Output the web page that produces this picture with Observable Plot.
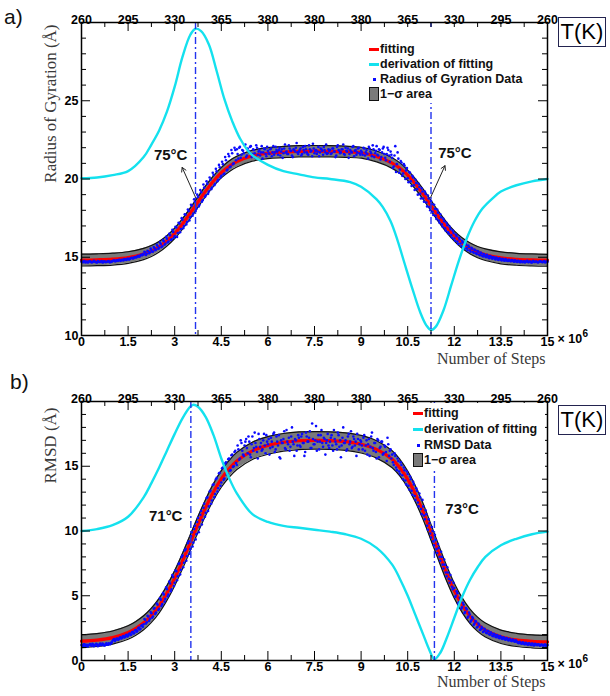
<!DOCTYPE html>
<html><head><meta charset="utf-8">
<script src="https://cdn.jsdelivr.net/npm/d3@7"></script>
<script src="https://cdn.jsdelivr.net/npm/@observablehq/plot@0.6"></script>
<style>
body{margin:0;background:#fff;}
#wrap{position:relative;width:610px;height:696px;overflow:hidden;font-family:"Liberation Sans",Arial,Helvetica,sans-serif;background:#fff;}
#wrap svg{display:block;}
.panel{position:absolute;left:0;}
.tag{position:absolute;font-size:21px;color:#111;line-height:1;}
.tk{position:absolute;left:558px;width:46px;height:28px;border:1.3px solid #23234f;font-size:22px;line-height:28px;text-align:center;color:#000;background:#fff;}
.leg{position:absolute;background:#fff;font-weight:bold;font-size:12.5px;color:#111;}
.row{position:absolute;left:0;height:14px;line-height:14px;white-space:nowrap;}
.mk{position:absolute;left:3px;}
.txt{position:absolute;left:14px;top:0;}
</style></head><body><div id="wrap"></div>
<script>
// ---------- shared axes ----------
const stepTicks = [0,1.5,3,4.5,6,7.5,9,10.5,12,13.5,15];
const stepTickLabels = ["0","1.5","3","4.5","6","7.5","9","10.5","12","13.5","15"];
const stepMinorTicks = [0.75,2.25,3.75,5.25,6.75,8.25,9.75,11.25,12.75,14.25];
const tempLabels = ["260","295","330","365","380","380","380","365","330","295","260"];

// ---------- panel a: radius of gyration ----------
const rgFitSteps = [0,0.5,1,1.5,2,2.25,2.5,2.75,3,3.25,3.5,3.75,4,4.25,4.5,4.75,5,5.5,6,6.5,7,7.5,8,8.5,9,9.5,10,10.25,10.5,10.75,11,11.25,11.5,11.75,12,12.25,12.5,12.75,13,13.5,14,14.5,15];
const rgFit = [14.82,14.84,14.88,14.98,15.21,15.40,15.67,16.05,16.53,17.13,17.81,18.53,19.24,19.87,20.40,20.81,21.11,21.49,21.65,21.72,21.77,21.78,21.77,21.74,21.68,21.44,21.02,20.69,20.24,19.68,19.02,18.30,17.58,16.92,16.36,15.91,15.58,15.33,15.16,14.96,14.87,14.83,14.81];
const rgSigma = [0.38,0.38,0.38,0.37,0.36,0.35,0.34,0.33,0.33,0.33,0.33,0.33,0.33,0.33,0.33,0.34,0.34,0.35,0.35,0.36,0.36,0.36,0.36,0.36,0.35,0.35,0.34,0.34,0.33,0.33,0.33,0.33,0.33,0.33,0.33,0.34,0.35,0.36,0.37,0.38,0.38,0.38,0.38];
const rgDerivSteps = [0,0.5,1,1.5,2,2.25,2.5,2.75,3,3.25,3.5,3.67,3.85,4.1,4.35,4.6,4.85,5.1,5.45,6,6.5,7,7.5,8,8.65,9,9.5,9.7,9.95,10.17,10.4,10.65,10.9,11.1,11.25,11.4,11.65,11.9,12.15,12.4,12.65,12.9,13.25,13.5,14,14.5,15];
const rgDeriv = [20.05,20.1,20.25,20.5,21.4,22.2,23.1,24.3,25.9,27.8,29.2,29.6,29.45,28.6,26.9,25.1,23.7,22.6,21.6,20.9,20.5,20.3,20.1,20.0,19.8,19.5,18.7,18.2,17.3,16.1,14.6,13.0,11.5,10.65,10.35,10.55,11.6,13.2,14.8,16.2,17.3,18.1,18.8,19.2,19.6,19.85,20.0];
// data sampled every 0.05 x10^6 steps (two interleaved sets)
const rgData = [
14.72,14.68,14.75,14.70,14.66,14.74,14.71,14.69,14.77,14.70,14.67,14.73,14.70,14.76,14.68,14.72,14.70,14.74,14.69,14.73,
14.76,14.80,14.74,14.79,14.82,14.77,14.84,14.80,14.86,14.83,14.90,14.87,14.95,14.92,15.00,14.98,15.06,15.04,15.14,15.12,
15.18,15.30,15.22,15.38,15.31,15.47,15.36,15.58,15.49,15.72,15.60,15.85,15.70,16.02,15.86,16.18,16.00,16.40,16.15,16.62,
16.35,16.90,16.55,17.15,16.80,17.40,17.00,17.72,17.25,17.95,17.55,18.30,17.80,18.55,18.10,18.85,18.35,19.15,18.65,19.45,
18.95,19.70,19.20,19.95,19.45,20.25,19.70,20.50,19.95,20.75,20.20,20.95,20.35,21.20,20.60,21.45,20.80,21.65,21.00,21.85,
21.90,21.30,22.05,21.55,21.80,22.15,21.40,21.95,21.70,22.10,21.60,21.85,21.35,22.00,21.75,21.50,22.10,21.70,21.90,21.45,
21.80,21.60,21.95,21.70,21.55,22.05,21.75,21.85,21.50,21.90,21.65,22.20,21.75,21.60,21.95,21.80,21.40,21.85,22.00,21.70,
21.75,21.95,21.60,21.85,22.10,21.70,21.55,21.90,21.80,22.25,21.65,21.85,21.75,21.45,21.95,21.80,22.05,21.70,21.60,21.90,
21.85,21.65,21.95,21.75,21.50,22.15,21.80,21.70,21.90,21.60,22.00,21.75,21.35,21.85,21.70,22.10,21.80,21.55,21.95,21.65,
21.80,21.55,21.95,21.70,21.60,22.05,21.75,21.45,21.90,21.65,22.10,21.50,21.85,21.40,21.95,21.60,21.20,22.00,21.50,21.75,
21.35,20.80,22.10,20.95,21.30,20.60,21.05,20.35,20.85,20.55,20.05,20.45,19.85,20.20,19.60,19.95,19.35,19.70,19.05,19.40,
18.75,19.20,18.50,18.95,18.20,18.60,17.90,18.35,17.65,18.05,17.35,17.75,17.10,17.45,16.85,17.20,16.60,16.95,16.40,16.70,
16.20,16.45,16.00,16.25,15.88,16.05,15.70,15.90,15.58,15.75,15.45,15.60,15.35,15.50,15.25,15.40,15.18,15.30,15.10,15.20,
15.05,15.15,14.98,15.08,14.95,15.02,14.90,14.98,14.86,14.94,14.84,14.90,14.80,14.88,14.78,14.84,14.76,14.82,14.74,14.80,
14.72,14.78,14.70,14.76,14.68,14.74,14.71,14.77,14.69,14.73,14.67,14.75,14.70,14.72,14.66,14.74,14.71,14.69,14.75,14.70,
14.72];
const rgData2 = [
14.70,14.75,14.67,14.72,14.69,14.74,14.66,14.71,14.73,14.68,14.75,14.70,14.72,14.67,14.74,14.69,14.71,14.76,14.68,14.72,
14.78,14.74,14.81,14.77,14.84,14.79,14.82,14.88,14.85,14.90,14.86,14.93,14.97,14.94,15.02,15.00,15.09,15.05,15.16,15.20,
15.35,15.15,15.42,15.25,15.55,15.35,15.65,15.45,15.80,15.55,15.95,15.65,16.10,15.80,16.30,15.95,16.50,16.10,16.75,16.25,
16.95,16.30,17.20,16.60,17.50,16.85,17.75,17.10,18.05,17.35,18.35,17.65,18.70,17.95,19.00,18.25,19.30,18.55,19.65,18.85,
19.85,19.05,20.10,19.35,20.40,19.60,20.65,19.85,20.90,20.10,21.10,20.30,21.40,20.55,21.60,20.75,21.85,20.95,22.00,21.20,
21.60,22.00,21.35,21.85,21.65,22.20,21.50,21.80,22.05,21.40,21.90,21.65,22.15,21.55,21.85,21.70,21.30,21.95,21.60,22.05,
21.65,21.90,21.45,22.10,21.70,21.85,21.55,22.00,21.75,21.35,21.95,21.70,21.60,22.15,21.80,21.50,21.90,21.75,22.30,21.60,
21.85,21.50,22.05,21.70,21.90,21.60,22.15,21.75,21.45,21.95,21.80,21.60,22.05,21.70,21.90,21.55,21.85,22.20,21.65,21.80,
21.60,21.95,21.75,21.40,22.05,21.85,21.65,21.90,22.20,21.55,21.80,21.95,21.60,21.75,22.05,21.45,21.85,21.70,22.00,21.55,
21.70,22.00,21.50,21.85,21.30,21.95,21.65,22.15,21.40,21.80,21.55,21.90,21.25,21.70,22.05,21.35,21.60,21.85,21.10,21.55,
20.70,21.50,20.45,21.70,20.40,21.15,20.20,20.95,20.00,20.70,19.80,20.40,19.55,20.10,19.30,19.75,19.00,19.50,18.75,19.20,
18.55,19.05,18.25,18.75,18.00,18.40,17.70,18.10,17.45,17.85,17.20,17.55,16.95,17.30,16.70,17.05,16.50,16.80,16.25,16.55,
16.05,16.35,15.85,16.15,15.70,15.95,15.55,15.80,15.45,15.65,15.35,15.55,15.28,15.45,15.20,15.35,15.12,15.25,15.05,15.15,
15.00,15.10,14.94,15.04,14.90,14.98,14.86,14.93,14.83,14.90,14.80,14.87,14.78,14.84,14.76,14.82,14.74,14.80,14.72,14.78,
14.70,14.75,14.68,14.73,14.71,14.66,14.74,14.69,14.72,14.67,14.75,14.70,14.73,14.68,14.71,14.74,14.69,14.72,14.67,14.73];
const rgTransitions = [3.67, 11.25];
const rgYTicks = [10,15,20,25,30];
const rgYLabels = [10,15,20,25];
const rgYMinor = [11,12,13,14,16,17,18,19,21,22,23,24,26,27,28,29];
const rgMeltLabels = [{label:"75°C", lx:2.87, ly:21.5},{label:"75°C", lx:12.02, ly:21.62}];
const rgMeltArrows = [{x1:3.67, y1:18.83, x2:3.24, y2:20.74},{x1:11.24, y1:18.83, x2:11.70, y2:20.85}];

// ---------- panel b: RMSD ----------
const rmsdFitSteps = [0,0.5,1,1.5,1.75,2,2.25,2.5,2.75,3,3.25,3.5,3.75,4,4.25,4.5,4.75,5,5.5,6,6.5,7,7.5,8,8.5,9,9.5,10,10.25,10.5,10.75,11,11.25,11.5,11.75,12,12.25,12.5,12.75,13,13.5,14,14.5,15];
const rmsdFit = [1.49,1.58,1.77,2.16,2.48,2.91,3.49,4.24,5.21,6.36,7.67,9.09,10.51,11.84,13.03,14.02,14.80,15.41,16.19,16.61,16.85,16.97,17.00,16.98,16.90,16.70,16.30,15.54,14.88,13.99,12.85,11.48,9.90,8.30,6.75,5.39,4.29,3.43,2.80,2.35,1.83,1.59,1.48,1.44];
const rmsdSigma = [0.50,0.50,0.51,0.52,0.53,0.54,0.55,0.56,0.57,0.58,0.59,0.60,0.61,0.62,0.63,0.64,0.65,0.66,0.67,0.68,0.68,0.68,0.68,0.68,0.68,0.68,0.67,0.66,0.65,0.64,0.63,0.62,0.61,0.60,0.59,0.58,0.57,0.56,0.55,0.54,0.52,0.51,0.50,0.50];
const rmsdDerivSteps = [0,0.5,1,1.5,2,2.25,2.5,2.75,3,3.25,3.5,3.6,3.75,4,4.25,4.5,4.75,5,5.5,6,6.5,7,7.5,8,8.5,9,9.5,10,10.25,10.5,10.75,11,11.2,11.36,11.55,11.75,12,12.25,12.5,12.75,13,13.5,14,14.5,15];
const rmsdDeriv = [10.0,10.15,10.45,11.1,12.6,13.7,14.9,16.2,17.5,18.7,19.6,19.75,19.6,18.8,17.4,15.6,14.1,12.9,11.3,10.7,10.4,10.25,10.1,9.95,9.75,9.4,8.7,7.4,6.3,5.0,3.5,2.0,0.8,0.1,0.6,1.7,3.3,4.9,6.2,7.2,8.0,8.9,9.4,9.75,9.95];
const rmsdData = [
1.20,1.12,1.25,1.15,1.08,1.22,1.18,1.28,1.10,1.20,1.24,1.14,1.30,1.19,1.26,1.16,1.33,1.22,1.28,1.36,
1.52,1.65,1.58,1.70,1.64,1.80,1.73,1.88,1.82,1.98,1.90,2.08,2.00,2.22,2.12,2.35,2.28,2.55,2.45,2.72,
2.80,3.15,2.95,3.40,3.20,3.65,3.40,4.05,3.70,4.30,4.00,4.70,4.35,5.10,4.75,5.50,5.10,5.95,5.50,6.45,
6.00,6.90,6.50,7.50,7.00,8.10,7.55,8.60,8.05,9.20,8.60,9.90,9.10,10.40,9.75,11.00,10.30,11.55,10.85,12.10,
11.40,12.60,11.90,13.10,12.35,13.60,12.85,14.10,13.30,14.50,13.75,14.90,14.05,15.30,14.40,15.60,14.70,15.90,15.00,16.20,
15.10,16.30,15.60,16.80,15.90,16.60,17.10,16.00,16.90,15.70,17.30,16.40,16.80,16.10,17.50,16.50,16.20,17.00,16.60,17.40,
16.70,15.90,17.20,16.50,17.60,16.30,16.90,17.40,15.60,16.80,17.10,16.40,17.80,16.70,16.20,17.30,16.90,15.80,17.00,16.60,
17.20,16.50,17.50,16.80,16.10,17.30,16.90,17.70,16.40,17.10,16.70,18.10,16.90,16.30,17.40,16.80,17.20,15.90,17.00,16.60,
16.90,17.40,16.20,17.10,16.70,17.60,16.50,15.70,17.20,16.80,17.00,16.30,17.50,16.90,16.40,17.30,16.60,15.80,17.10,16.70,
16.90,16.30,17.40,16.60,15.90,17.10,16.50,17.60,16.20,16.80,15.60,17.00,16.40,16.90,15.90,16.60,16.10,17.20,15.80,16.30,
15.90,15.10,15.80,14.70,15.40,14.40,15.10,14.00,14.70,13.60,14.40,13.20,14.00,12.80,13.60,12.40,13.10,11.90,12.60,11.30,
11.90,10.90,11.30,10.10,10.60,9.50,10.00,8.90,9.30,8.30,8.70,7.70,8.00,7.10,7.40,6.50,6.80,6.00,6.20,5.50,
5.60,5.00,5.20,4.50,4.75,4.10,4.30,3.75,3.95,3.40,3.55,3.10,3.25,2.85,3.00,2.60,2.75,2.40,2.50,2.25,
2.35,2.10,2.25,2.00,2.10,1.88,2.00,1.80,1.90,1.72,1.82,1.66,1.75,1.60,1.70,1.55,1.62,1.50,1.58,1.45,
1.50,1.38,1.45,1.32,1.40,1.28,1.36,1.24,1.33,1.22,1.30,1.18,1.28,1.20,1.26,1.15,1.24,1.18,1.22,1.14,
1.20];
const rmsdData2 = [
1.15,1.25,1.10,1.21,1.17,1.27,1.13,1.23,1.19,1.29,1.11,1.24,1.20,1.31,1.17,1.26,1.22,1.33,1.25,1.38,
1.60,1.50,1.68,1.60,1.76,1.70,1.85,1.78,1.95,1.86,2.05,1.97,2.18,2.08,2.32,2.22,2.48,2.40,2.68,2.60,
3.20,2.85,3.45,3.05,3.75,3.30,4.00,3.60,4.40,3.90,4.80,4.20,5.20,4.55,5.65,4.95,6.10,5.35,6.60,5.75,
6.95,6.20,7.45,6.65,8.00,7.20,8.50,7.70,9.05,8.25,9.60,8.80,10.15,9.35,10.70,9.90,11.25,10.50,11.80,11.10,
12.55,11.55,13.05,12.10,13.55,12.60,14.00,13.05,14.45,13.50,14.85,13.95,15.20,14.35,15.55,14.65,15.85,14.95,16.10,15.25,
16.60,15.50,17.00,16.20,15.80,16.90,16.40,17.30,15.90,16.70,16.20,17.60,16.50,15.60,17.10,16.80,16.30,17.50,16.00,16.90,
17.10,16.40,16.90,17.50,16.10,17.30,16.60,15.70,17.00,16.80,17.70,16.30,16.90,17.20,16.50,18.00,16.70,17.10,16.20,17.40,
16.60,17.30,16.80,15.80,17.60,16.90,17.20,16.40,18.30,16.70,17.00,16.20,17.40,16.90,17.80,16.50,17.10,16.80,17.50,16.40,
17.20,16.60,17.80,16.90,16.30,17.40,17.00,16.60,18.00,16.80,16.20,17.30,16.70,17.70,16.50,17.10,16.90,17.50,16.30,17.00,
16.60,17.20,16.20,17.00,16.70,15.80,17.30,16.40,16.80,16.10,17.10,15.70,16.50,16.90,16.00,16.50,15.40,16.70,16.20,15.60,
15.30,16.00,14.90,15.60,14.60,15.30,14.30,14.90,13.90,14.60,13.50,14.20,13.10,13.80,12.70,13.30,12.20,12.90,11.70,12.40,
11.20,11.60,10.40,10.90,9.80,10.30,9.20,9.70,8.60,9.00,8.00,8.40,7.40,7.80,6.80,7.20,6.30,6.60,5.70,6.00,
4.90,5.35,4.40,4.85,4.00,4.45,3.65,4.05,3.30,3.70,3.00,3.35,2.75,3.05,2.55,2.85,2.35,2.60,2.20,2.45,
2.15,2.30,2.02,2.18,1.92,2.06,1.84,1.96,1.76,1.88,1.70,1.80,1.64,1.74,1.58,1.68,1.53,1.62,1.49,1.56,
1.42,1.34,1.38,1.30,1.36,1.26,1.33,1.22,1.30,1.20,1.28,1.17,1.25,1.19,1.23,1.16,1.21,1.13,1.24,1.18];
const rmsdTransitions = [3.52, 11.36];
const rmsdYTicks = [0,5,10,15,20];
const rmsdYLabels = [0,5,10,15];
const rmsdYMinor = [1,2,3,4,6,7,8,9,11,12,13,14,16,17,18,19];
const rmsdMeltLabels = [{label:"71°C", lx:2.71, ly:11.15},{label:"73°C", lx:12.25, ly:11.69}];
const rmsdMeltArrows = [];

const dataStep = 0.05, dataStart2 = 0.025;
const W = 610, ML = 81, MR = 63;
const SANS = "Liberation Sans, Arial, Helvetica, sans-serif";
const SERIF = "Liberation Serif, Times New Roman, serif";

function drawPanel(o) {
  const innerW = W - ML - MR;
  const innerH = o.height - o.mt - o.mb;
  const fitRows = o.fitSteps.map((s, i) => ({s, fit: o.fit[i], lo: o.fit[i] - o.sigma[i], hi: o.fit[i] + o.sigma[i]}));
  const derivRows = o.derivSteps.map((s, i) => ({s, v: o.deriv[i]}));
  const dataRows = o.data.map((v, i) => ({s: i * dataStep, v}))
    .concat(o.data2.map((v, i) => ({s: dataStart2 + i * dataStep, v})));
  const lab = {fontFamily: SANS, fontWeight: "bold", fontSize: 12.5, fill: "#000"};
  return Plot.plot({
    width: W, height: o.height,
    marginLeft: ML, marginRight: MR, marginTop: o.mt, marginBottom: o.mb,
    x: {domain: [0, 15], axis: null},
    y: {domain: o.yDomain, axis: null},
    style: {fontFamily: SANS, background: "white", overflow: "visible"},
    marks: [
      Plot.areaY(fitRows, {x: "s", y1: "lo", y2: "hi", fill: "#7a7a7a", curve: "catmull-rom"}),
      Plot.line(fitRows, {x: "s", y: "hi", stroke: "#111", strokeWidth: 1.2, curve: "catmull-rom"}),
      Plot.line(fitRows, {x: "s", y: "lo", stroke: "#111", strokeWidth: 1.2, curve: "catmull-rom"}),
      Plot.line(fitRows, {x: "s", y: "fit", stroke: "#ff0000", strokeWidth: 3.2, curve: "catmull-rom"}),
      Plot.dot(dataRows, {x: "s", y: "v", r: 1.3, fill: "#0a0aff"}),
      Plot.line(derivRows, {x: "s", y: "v", stroke: "#14e1ee", strokeWidth: 2.4, curve: "catmull-rom"}),
      Plot.ruleX(o.transitions, {x: d => d, stroke: "#2233ee", strokeWidth: 1.4, strokeDasharray: "7,3,2,3"}),
      // inward ticks
      Plot.tickX(stepTicks, {x: d => d, insetTop: innerH - 9, stroke: "#000"}),
      Plot.tickX(stepMinorTicks, {x: d => d, insetTop: innerH - 5, stroke: "#000"}),
      Plot.tickX(stepTicks, {x: d => d, insetBottom: innerH - 9, stroke: "#000"}),
      Plot.tickX(stepMinorTicks, {x: d => d, insetBottom: innerH - 5, stroke: "#000"}),
      Plot.tickY(o.yTicks, {y: d => d, insetRight: innerW - 9, stroke: "#000"}),
      Plot.tickY(o.yMinor, {y: d => d, insetRight: innerW - 5, stroke: "#000"}),
      Plot.tickY(o.yTicks, {y: d => d, insetLeft: innerW - 9, stroke: "#000"}),
      Plot.tickY(o.yMinor, {y: d => d, insetLeft: innerW - 5, stroke: "#000"}),
      Plot.frame({stroke: "#000", strokeWidth: 1.5}),
      // tick labels
      Plot.text(stepTickLabels, {x: (d, i) => stepTicks[i], text: d => d, frameAnchor: "bottom", dy: 10, ...lab}),
      Plot.text(tempLabels, {x: (d, i) => stepTicks[i], text: d => d, frameAnchor: "top", dy: -7, ...lab}),
      Plot.text(o.yLabels, {y: d => d, text: d => String(d), frameAnchor: "left", dx: -3, textAnchor: "end", ...lab}),
      Plot.text(["× 10"], {frameAnchor: "bottom-right", dx: 10, dy: 7, textAnchor: "start", ...lab}),
      Plot.text(["6"], {frameAnchor: "bottom-right", dx: 35, dy: 1, textAnchor: "start", ...lab, fontSize: 10}),
      // titles
      Plot.text(["Number of Steps"], {frameAnchor: "bottom-right", dx: -2, dy: o.xTitleDy, textAnchor: "end", fontFamily: SERIF, fontSize: 16, fill: "#3a3a3a"}),
      Plot.text([o.yTitle], {frameAnchor: "top-left", rotate: -90, textAnchor: "end", dx: -38, dy: o.yTitleDy, fontFamily: SERIF, fontSize: 17, fill: "#3a3a3a"}),
      // melting annotations
      Plot.arrow(o.meltArrows, {x1: "x1", y1: "y1", x2: "x2", y2: "y2", stroke: "#222", strokeWidth: 1, headLength: 7}),
      Plot.text(o.meltLabels, {x: "lx", y: "ly", text: "label", fontFamily: SANS, fontWeight: "bold", fontSize: 15, fill: "#111"})
    ]
  });
}

const wrap = document.getElementById("wrap");
const pa = document.createElement("div"); pa.className = "panel"; pa.style.top = "0px";
pa.appendChild(drawPanel({height: 375, mt: 22, mb: 40, yDomain: [10, 30], fitSteps: rgFitSteps, fit: rgFit, sigma: rgSigma,
  derivSteps: rgDerivSteps, deriv: rgDeriv, data: rgData, data2: rgData2, transitions: rgTransitions, yTicks: rgYTicks, yLabels: rgYLabels,
  yMinor: rgYMinor, yTitle: "Radius of Gyration (Å)", yTitleDy: 2, xTitleDy: 28, meltLabels: rgMeltLabels, meltArrows: rgMeltArrows}));
wrap.appendChild(pa);
const pb = document.createElement("div"); pb.className = "panel"; pb.style.top = "375px";
pb.appendChild(drawPanel({height: 321, mt: 26, mb: 36, yDomain: [0, 20], fitSteps: rmsdFitSteps, fit: rmsdFit, sigma: rmsdSigma,
  derivSteps: rmsdDerivSteps, deriv: rmsdDeriv, data: rmsdData, data2: rmsdData2, transitions: rmsdTransitions, yTicks: rmsdYTicks, yLabels: rmsdYLabels,
  yMinor: rmsdYMinor, yTitle: "RMSD (Å)", yTitleDy: 6, xTitleDy: 26, meltLabels: rmsdMeltLabels, meltArrows: rmsdMeltArrows}));
wrap.appendChild(pb);

// overlays: panel tags, T(K) boxes, legends
function addLegend(left, top, w, h, rowTops, dataLabel) {
  const items = [
    {mk: '<span class="mk" style="top:5.5px;width:10px;height:3px;background:#ff0000"></span>', t: "fitting"},
    {mk: '<span class="mk" style="top:6px;width:10px;height:2.5px;background:#14e1ee"></span>', t: "derivation of fitting"},
    {mk: '<span class="mk" style="top:6px;left:7px;width:2.5px;height:2.5px;background:#0a0aff"></span>', t: dataLabel},
    {mk: '<span class="mk" style="top:0px;width:8px;height:12px;background:#7a7a7a;border:1px solid #111"></span>', t: "1−σ area"}
  ];
  const d = document.createElement("div");
  d.className = "leg";
  d.style.cssText = `left:${left}px;top:${top}px;width:${w}px;height:${h}px`;
  d.innerHTML = items.map((it, i) => `<div class="row" style="top:${rowTops[i]}px">${it.mk}<span class="txt">${it.t}</span></div>`).join("");
  wrap.appendChild(d);
}
addLegend(366, 27, 168, 76, [15, 30, 45, 60], "Radius of Gyration Data");
addLegend(410, 403, 135, 65, [3, 19, 35, 50], "RMSD Data");

function addDiv(cls, css, html) {
  const d = document.createElement("div"); d.className = cls; d.style.cssText = css; d.innerHTML = html; wrap.appendChild(d);
}
addDiv("tag", "left:4px;top:6px", "a)");
addDiv("tag", "left:10px;top:371px", "b)");
addDiv("tk", "top:17px", "T(K)");
addDiv("tk", "top:405px", "T(K)");
</script></body></html>
